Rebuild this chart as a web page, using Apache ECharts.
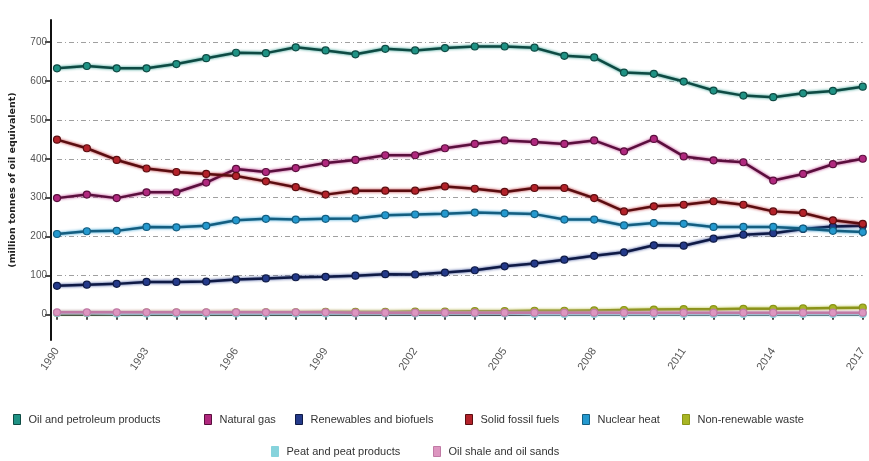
<!DOCTYPE html>
<html><head><meta charset="utf-8">
<script src="https://cdn.jsdelivr.net/npm/echarts@6/dist/echarts.min.js"></script>
<style>html,body{margin:0;padding:0;background:#fff}#c{width:869px;height:461px}</style>
</head><body><div id="c"></div>
<script>
const years = ['1990','1991','1992','1993','1994','1995','1996','1997','1998','1999','2000','2001','2002','2003','2004','2005','2006','2007','2008','2009','2010','2011','2012','2013','2014','2015','2016','2017'];
const oilPetroleum = [632,638,632,632,643,658,672,671,686,678,668,682,678,684,688,688,685,664,660,621,618,598,575,562,558,568,574,585];
const naturalGas   = [299,308,299,314,314,339,374,366,376,389,397,409,409,427,438,447,443,438,447,419,451,406,396,391,344,361,386,400];
const renewables   = [74,77,79,84,84,85,90,93,96,97,100,104,103,108,114,124,131,141,151,160,178,177,195,205,209,220,226,228];
const solidFossil  = [449,427,397,375,366,361,356,342,327,308,318,318,318,329,323,315,325,325,299,265,278,282,291,282,265,261,242,233];
const nuclearHeat  = [207,214,215,225,224,228,242,246,244,246,247,255,257,259,262,260,258,244,244,229,235,233,225,225,225,221,215,212];
const nonRenewWaste= [4,4,4,5,5,5,6,6,6,7,7,7,8,8,9,9,10,10,11,12,13,14,14,15,15,16,17,18];
const peat         = [4,4,3,3,3,3,3,3,3,3,3,3,3,3,3,3,2,2,2,2,2,2,2,2,2,2,2,2];
const oilShale     = [6,6,6,6,6,6,6,6,6,6,5,5,5,5,5,5,5,5,5,5,5,5,5,5,5,5,5,5];

const names = ['Oil and petroleum products','Natural gas','Renewables and biofuels','Solid fossil fuels','Nuclear heat','Non-renewable waste','Peat and peat products','Oil shale and oil sands'];
const values = [oilPetroleum, naturalGas, renewables, solidFossil, nuclearHeat, nonRenewWaste, peat, oilShale];
const fill = ['#1f9284','#b0287e','#243a8a','#b3222a','#2499cf','#a8b524','#86d3dc','#dd96c0'];
const dark = ['#0e4a43','#5a0f3d','#0f1a45','#5a0d10','#145e80','#8a9418','#86d3dc','#c07aa5'];

const legendPos = [[13,414],[204,414],[295,414],[465,414],[582,414],[682,414],[271,446],[433,446]];

const chart = echarts.init(document.getElementById('c'));
chart.setOption({
  backgroundColor:'#fff',
  animation:false,
  grid:{left:57,right:3,top:20,bottom:121},
  legend: names.map((n,i)=>({
    data:[n], left:legendPos[i][0], top:legendPos[i][1], icon:'rect', itemWidth:7, itemHeight:10,
    itemStyle:{color:fill[i], borderColor:dark[i], borderWidth:1},
    textStyle:{fontFamily:'Liberation Sans, Arial, sans-serif', fontSize:11, color:'#333', padding:[0,0,0,3]},
    padding:0
  })),
  xAxis:{
    type:'category', data:years, boundaryGap:false,
    axisLine:{lineStyle:{color:'#111', width:2}},
    axisTick:{show:true, interval:0, length:5, lineStyle:{color:'#111', width:1.5}},
    axisLabel:{interval:2, rotate:56, color:'#555', fontSize:11, fontFamily:'Liberation Sans, Arial, sans-serif', margin:9},
    splitLine:{show:false}
  },
  yAxis:{
    type:'value', min:-65, max:756, splitNumber:8, offset:6,
    name:'(million tonnes of oil equivalent)', nameLocation:'middle', nameGap:33,
    nameTextStyle:{fontSize:9.5, fontWeight:'bold', color:'#222', fontFamily:'DejaVu Sans, sans-serif'},
    axisLine:{show:true, lineStyle:{color:'#111', width:2}},
    axisTick:{show:true, length:6, lineStyle:{color:'#111', width:1.5}},
    axisLabel:{color:'#555', fontSize:10, fontFamily:'Liberation Sans, Arial, sans-serif', margin:4, showMinLabel:false, showMaxLabel:false},
    splitLine:{show:true, showMinLine:false, showMaxLine:false, lineStyle:{color:'#a0a0a0', width:1, type:[5,3,1,3]}}
  },
  series: names.map((n,i)=>({
    name:n, type:'line', data:values[i], symbol:'circle', symbolSize:7,
    lineStyle:{color:dark[i], width:2.5, shadowColor:fill[i], shadowBlur:3},
    itemStyle:{color:fill[i], borderColor:dark[i], borderWidth:1.2},
    z: 2+i
  }))
});
</script></body></html>
